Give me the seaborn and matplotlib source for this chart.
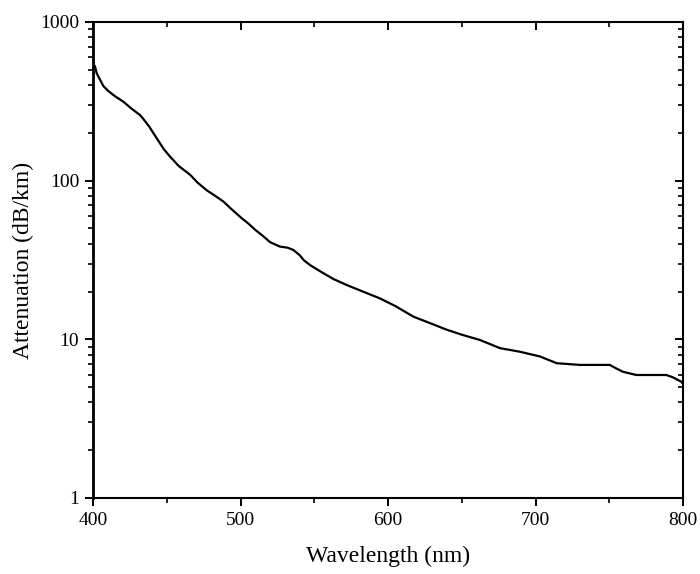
import numpy as np
import pandas as pd
import matplotlib
matplotlib.use("Agg")
import matplotlib.pyplot as plt
import matplotlib.ticker as mticker
import seaborn as sns

wavelength = [400, 401.4, 402.5, 407, 410.4, 415, 420.5, 426, 431.9, 434.1, 438, 443.2,
              448, 452.2, 458, 465.8, 471, 477.1, 483, 488.3, 494, 500.8, 505, 510,
              515, 520, 526.8, 532, 535.8, 540, 543, 547.1, 555, 563, 572, 583,
              594.6, 605, 617.2, 628, 639.8, 650, 662.4, 675.9, 689.5, 703, 714.4,
              730, 750.3, 754.7, 759.2, 768.3, 778, 788.6, 793, 798.8, 800]
attenuation = [550, 523, 475, 395, 367, 340, 315, 285, 259, 245, 220, 185,
               158, 142, 124, 109, 97, 87, 80, 74, 66, 58, 54, 49,
               45, 41, 38.4, 37.8, 36.6, 34, 31.5, 29.4, 26.5, 24, 22.0, 20,
               18.1, 16.2, 13.9, 12.7, 11.5, 10.7, 9.9, 8.8, 8.35, 7.8, 7.07,
               6.9, 6.9, 6.56, 6.25, 5.96, 5.96, 5.96, 5.77, 5.41, 5.25]

x_ticks = [400, 500, 600, 700, 800]
y_ticks = [1, 10, 100, 1000]
y_tick_labels = ["1", "10", "100", "1000"]

sns.set_style("ticks")
plt.rcParams['font.family'] = ['Liberation Serif', 'DejaVu Serif']
plt.rcParams['text.color'] = 'black'
plt.rcParams['axes.labelcolor'] = 'black'

df = pd.DataFrame({"Wavelength": wavelength, "Attenuation": attenuation})

fig = plt.figure(figsize=(7.0, 5.74), dpi=100)
ax = fig.add_axes([93/700, 1-498/574, (683-93)/700, (498-22)/574])

sns.lineplot(data=df, x="Wavelength", y="Attenuation", ax=ax, color="black",
             linewidth=1.6, estimator=None, sort=False)

ax.set_yscale("log")
ax.set_xlim(400, 800)
ax.set_ylim(1, 1000)

ax.xaxis.set_major_locator(mticker.FixedLocator(x_ticks))
ax.xaxis.set_minor_locator(mticker.MultipleLocator(50))
ax.yaxis.set_major_locator(mticker.FixedLocator(y_ticks))
ax.yaxis.set_major_formatter(mticker.FixedFormatter(y_tick_labels))
ax.yaxis.set_minor_locator(mticker.LogLocator(base=10, subs=np.arange(2, 10)))
ax.yaxis.set_minor_formatter(mticker.NullFormatter())

for s in ax.spines.values():
    s.set_linewidth(1.5)
    s.set_color("black")
    s.set_visible(True)
ax.spines['left'].set_linewidth(2.0)

ax.tick_params(which='major', direction='out', length=6, width=1.4, labelsize=14,
               colors='black', labelcolor='black', pad=4)
ax.tick_params(which='minor', direction='out', length=3.5, width=1.2, colors='black')

ax.set_xlabel("Wavelength (nm)", fontsize=17, labelpad=12, color='black')
ax.set_ylabel("Attenuation (dB/km)", fontsize=17, labelpad=4, color='black')

# right axis: inward ticks
axr = ax.twinx()
axr.set_yscale("log")
axr.set_ylim(1, 1000)
axr.yaxis.set_major_locator(mticker.FixedLocator(y_ticks))
axr.yaxis.set_minor_locator(mticker.LogLocator(base=10, subs=np.arange(2, 10)))
axr.tick_params(which='major', direction='in', length=6, width=1.4, labelright=False, colors='black')
axr.tick_params(which='minor', direction='in', length=3.5, width=1.2, labelright=False, colors='black')
for s in axr.spines.values():
    s.set_visible(False)

# top axis: inward ticks
axt = ax.twiny()
axt.set_xlim(400, 800)
axt.xaxis.set_major_locator(mticker.FixedLocator(x_ticks))
axt.xaxis.set_minor_locator(mticker.MultipleLocator(50))
axt.tick_params(which='major', direction='in', length=6, width=1.4, labeltop=False, colors='black')
axt.tick_params(which='minor', direction='in', length=3.5, width=1.2, labeltop=False, colors='black')
for s in axt.spines.values():
    s.set_visible(False)

fig.savefig("out.png", dpi=100)
